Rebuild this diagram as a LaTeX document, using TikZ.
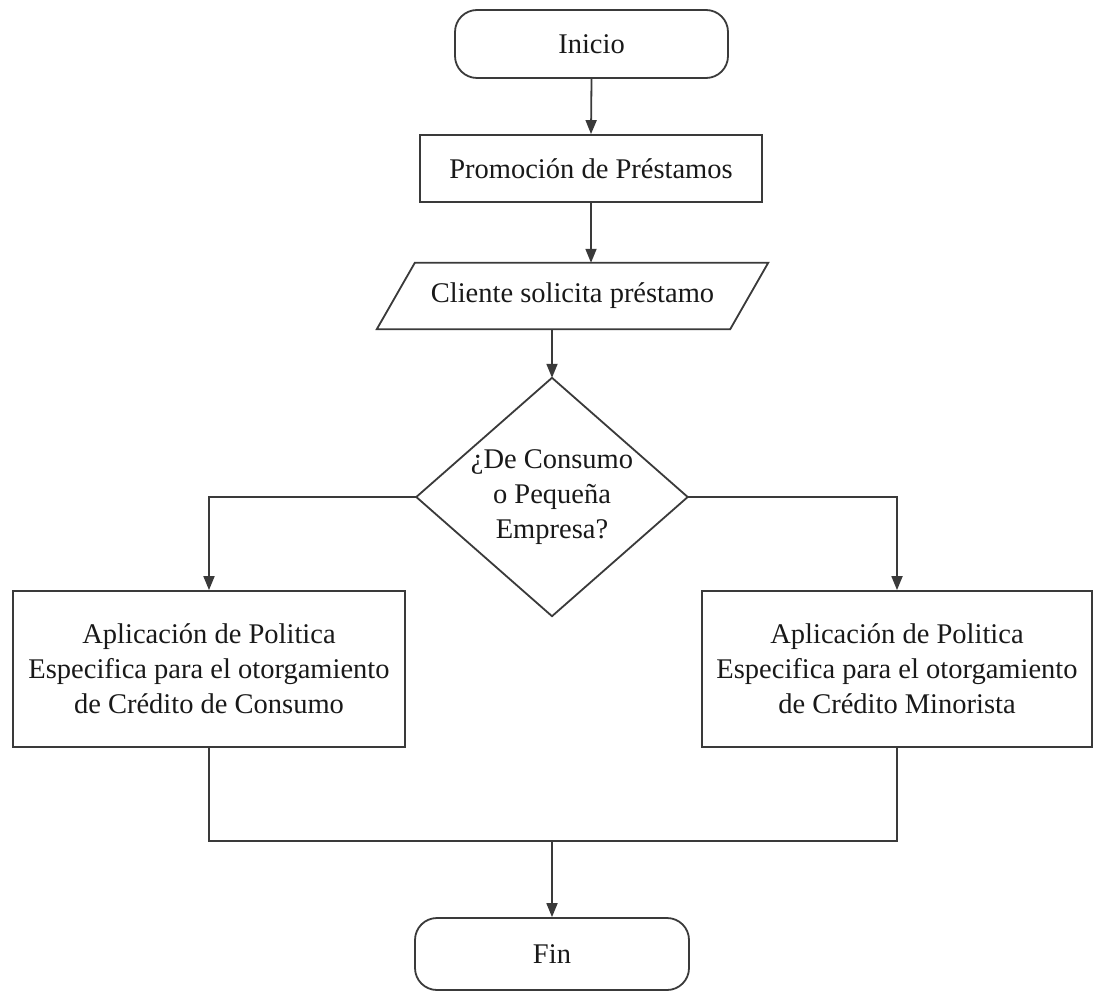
\documentclass[tikz,border=0pt]{standalone}
\usepackage{fontspec}
\setmainfont{Liberation Serif}
\usetikzlibrary{arrows.meta}
\definecolor{linec}{HTML}{3A3A3A}
\tikzset{
  base/.style={inner sep=0pt, align=center, font=\fontsize{28.5}{35}\selectfont, text=black!90},
  term/.style={base, draw=linec, line width=1.8pt, rounded corners=22pt},
  proc/.style={base, draw=linec, line width=1.8pt},
  ghost/.style={base, draw=none},
  shapeline/.style={draw=linec, line width=1.8pt, line join=miter},
  conn/.style={draw=linec, line width=1.8pt},
  arr/.style={conn, -{Triangle[length=14pt,width=11pt]}}
}
\begin{document}
\begin{tikzpicture}[x=1pt,y=-1pt]
\useasboundingbox[fill=white] (0,0) rectangle (1094,992);

\node[term, minimum width=273pt, minimum height=68pt] (inicio) at (591.5,44) {Inicio};
\node[proc, minimum width=342pt, minimum height=67pt] (promo) at (591,168.5) {Promoción de Préstamos};
\node[ghost, minimum width=353pt, minimum height=66pt] (cliente) at (572.5,296) {Cliente solicita préstamo};
\draw[shapeline] ([xshift=19pt]cliente.north west) -- ([xshift=19pt]cliente.north east)
  -- ([xshift=-19pt]cliente.south east) -- ([xshift=-19pt]cliente.south west) -- cycle;
\node[ghost, minimum width=271pt, minimum height=238pt] (dec) at (552,497) {¿De Consumo\\o Pequeña\\Empresa?};
\draw[shapeline] (dec.north) -- (dec.east) -- (dec.south) -- (dec.west) -- cycle;
\node[proc, minimum width=392pt, minimum height=156pt] (left) at (209,669)
  {Aplicación de Politica\\Especifica para el otorgamiento\\de Crédito de Consumo};
\node[proc, minimum width=390pt, minimum height=156pt] (right) at (897,669)
  {Aplicación de Politica\\Especifica para el otorgamiento\\de Crédito Minorista};
\node[term, minimum width=274pt, minimum height=72pt] (fin) at (552,954) {Fin};
\coordinate (merge) at (552,841);

\draw[arr] (inicio.south) -- (promo.north);
\draw[arr] (promo.south) -- (promo.south |- cliente.north);
\draw[arr] (dec.north |- cliente.south) -- (dec.north);
\draw[arr] (dec.west) -| (left.north);
\draw[arr] (dec.east) -| (right.north);
\draw[conn] (left.south) |- (merge) -| (right.south);
\draw[arr] (merge) -- (fin.north);
\end{tikzpicture}
\end{document}
